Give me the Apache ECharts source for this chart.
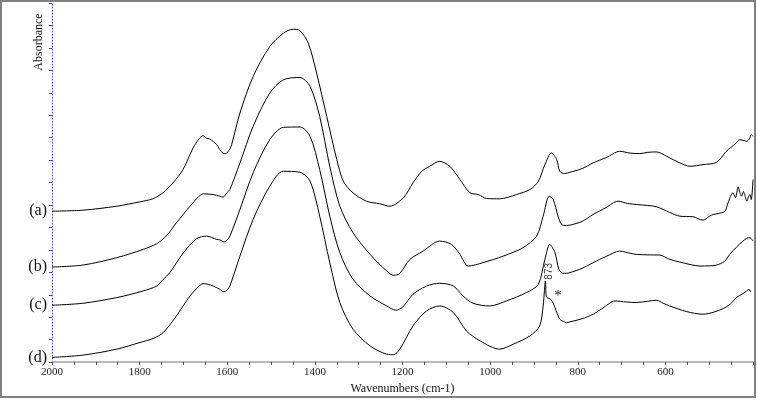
<!DOCTYPE html>
<html>
<head>
<meta charset="utf-8">
<script src="https://cdn.jsdelivr.net/npm/echarts@6/dist/echarts.min.js"></script>
<style>
html,body{margin:0;padding:0;background:#fff;}
#chart{width:757px;height:400px;}
</style>
</head>
<body>
<div id="chart"></div>
<script>
// X tick labels shown on the axis (cm-1)
const xTickLabels = [2000, 1800, 1600, 1400, 1200, 1000, 800, 600];
const seriesNames = ['(a)', '(b)', '(c)', '(d)'];

// Spectra: [wavenumber (cm-1), absorbance (arbitrary offset units)]
const spectrumA = [
  [2000,151.3],[1929,152.3],[1852,156.3],[1799,160.7],[1770,163.7],[1747,169.7],[1724,179.7],
  [1701,193],[1678,214.7],[1664,224],[1655,227],[1648,224.5],[1640,223.7],[1624,218],[1617,213],
  [1610,209.5],[1604,209],[1594,213.7],[1590,218],[1571,249.7],[1541,286.3],[1503,316.3],
  [1472,329.7],[1449,333.7],[1434,332.3],[1415,319.7],[1396,289.7],[1373,246.3],[1350,203],
  [1335,181.3],[1313,169.7],[1282,161.3],[1252,158.7],[1229,156.3],[1198,164.7],[1176,179.7],
  [1156,191.3],[1138,196.3],[1115,201.3],[1092,196.3],[1069,183],[1046,169.7],[1027,168],
  [1008,164],[978,163.7],[940,168],[909,173],[890,181.3],[875,198],[860,209.7],[848,203],
  [841,191.3],[830,189],[818,190.3],[790,194],[765,199.7],[735,205],[704,211.3],[680,209.5],
  [658,209],[640,210.3],[620,210.7],[597,206.3],[567,199.7],[544,196.3],[514,198],[483,200.3],
  [461,211.3],[440,219],[430,223],[420,222],[415,221.3],[408,224],[404,228],[400,226.3]
];
const spectrumB = [
  [2000,95.3],[1929,97.3],[1852,104.7],[1792,113],[1761,118.7],[1738,127],[1716,139.7],
  [1685,156.3],[1665,166],[1655,168.7],[1632,168],[1617,166.3],[1609,165.5],[1601,169.7],
  [1594,173],[1571,199.7],[1541,236.3],[1503,269.7],[1472,283],[1434,285.3],[1411,276.3],
  [1389,246.3],[1366,196.3],[1343,156.3],[1313,129.7],[1274,108],[1236,91.3],[1220,87],
  [1206,89],[1183,103],[1153,111.3],[1115,121.3],[1088,118],[1069,108],[1050,96.3],
  [1016,99.7],[970,106.3],[925,114.7],[894,126.3],[879,146.3],[865,166.3],[856,163],
  [845,146.3],[837,138],[826,137],[818,137.3],[790,141],[765,148],[735,155],[708,161.3],
  [686,159],[666,158],[640,157],[620,155.7],[590,150],[567,146.3],[537,145.7],[514,142.3],
  [500,146],[491,148],[478,149],[464,151.3],[457,159.7],[446,169.7],[440,165],[434,175.7],
  [430,170],[426,166.3],[422,171],[419,168],[414,161.3],[410,166],[407,168],[404,163],[400,183]
];
const spectrumC = [
  [2000,57],[1929,59],[1852,64.7],[1792,71.3],[1761,76.3],[1746,83],[1731,89.7],[1700,109.7],
  [1670,123.7],[1647,126.3],[1624,123],[1617,122.5],[1607,120.5],[1601,122],[1594,126.3],
  [1571,153],[1541,189.7],[1503,223],[1472,235.3],[1434,235.7],[1411,226.3],[1389,193],
  [1366,146.3],[1343,109.7],[1313,83],[1274,66.3],[1236,56.3],[1215,52],[1200,55],
  [1176,68],[1145,76.3],[1115,79],[1084,76.3],[1062,66.3],[1039,59],[1001,56.3],[963,61.3],
  [917,69.7],[890,78],[875,103],[864,118],[852,109.7],[843,93],[833,89],[826,89],[818,89.7],
  [790,94],[765,99.7],[735,106],[704,111.3],[680,109],[666,108],[640,107.5],[613,107.3],
  [590,103],[567,100.3],[540,97.5],[521,96.3],[500,96.5],[483,97.3],[465,101],[453,108],
  [438,115],[423,121.3],[415,124],[407,124.7],[400,121.3]
];
const spectrumD = [
  [2000,4.7],[1929,7],[1852,13],[1799,19.7],[1769,23.7],[1746,29.7],[1716,46.3],[1685,66.3],
  [1665,76],[1655,78.7],[1632,76.3],[1617,73],[1608,70.5],[1600,72.5],[1594,76.3],
  [1571,106.3],[1541,143],[1503,176.3],[1472,191.3],[1434,190.3],[1411,181.3],[1389,146.3],
  [1366,99.7],[1343,59.7],[1313,33],[1274,16.3],[1236,8],[1220,7.5],[1206,13],[1176,36.3],
  [1145,51.3],[1115,56.3],[1084,49.7],[1054,31.3],[1023,21.3],[978,13],[947,18],[909,26.3],
  [887,36.3],[879,56.3],[876,72],[874,81.3],[872,66],[870,64.7],[862,63],[856,59],[852,54.7],
  [841,43],[830,40.3],[826,39.5],[818,40.3],[790,43.5],[765,48],[740,55],[715,61.3],
  [690,60.3],[666,59.7],[640,61],[620,62],[605,59],[590,56.3],[552,50.7],[514,48],[490,50],
  [468,53.7],[452,58],[438,64.7],[425,68],[415,71.3],[409,73],[406,71],[404,71.3]
];

const spectra = [spectrumA, spectrumB, spectrumC, spectrumD];

const chart = echarts.init(document.getElementById('chart'), null, {renderer: 'canvas'});

const serif = 'Liberation Serif';

const series = spectra.map((data, i) => {
  const s = {
    type: 'line',
    name: seriesNames[i],
    data: data,
    showSymbol: false,
    smooth: 0.3,
    lineStyle: {color: '#000', width: 1},
    animation: false,
    markPoint: {
      symbol: 'circle',
      symbolSize: 0,
      animation: false,
      data: [{
        coord: data[0],
        label: {
          show: true, position: 'left', distance: 5,
          formatter: seriesNames[i],
          fontFamily: serif, fontSize: 16, color: '#111'
        }
      }]
    }
  };
  if (i === 3) {
    s.markPoint.data.push({
      coord: [864, 91],
      label: {
        show: true, position: 'inside', rotate: 90,
        formatter: '873', fontFamily: 'Liberation Sans', fontSize: 10, color: '#444'
      }
    });
    s.markPoint.data.push({
      coord: [845, 66],
      label: {
        show: true, position: 'inside',
        formatter: '*', fontFamily: serif, fontSize: 15, color: '#222'
      }
    });
  }
  return s;
});

chart.setOption({
  backgroundColor: '#fff',
  animation: false,
  grid: {left: 52, right: 4, top: 3, bottom: 37, containLabel: false},
  xAxis: {
    type: 'value',
    inverse: true,
    min: 400,
    max: 2000,
    interval: 50,
    name: 'Wavenumbers (cm-1)',
    nameLocation: 'middle',
    nameGap: 16,
    nameTextStyle: {fontFamily: serif, fontSize: 12, color: '#111'},
    axisLine: {show: true, onZero: false, lineStyle: {color: '#b8b8b8', width: 2}},
    axisTick: {show: true, length: 3, inside: false, lineStyle: {color: '#3a3ad0', width: 1}},
    axisLabel: {
      margin: 5,
      fontFamily: serif, fontSize: 11, color: '#222',
      formatter: v => (xTickLabels.indexOf(v) >= 0 ? String(v) : '')
    },
    splitLine: {show: false}
  },
  yAxis: {
    type: 'value',
    min: 0,
    max: 360,
    interval: 22.5,
    axisLine: {show: true, onZero: false, lineStyle: {color: '#4a4ae0', width: 1, type: [1, 2]}},
    axisTick: {show: true, length: 3, inside: false, lineStyle: {color: '#3a3ad0', width: 1}},
    axisLabel: {show: false},
    splitLine: {show: false}
  },
  graphic: [
    {
      type: 'rect', silent: true,
      shape: {x: 1, y: 1, width: 754, height: 396},
      style: {fill: 'none', stroke: '#808080', lineWidth: 2}
    },
    {
      type: 'text', silent: true,
      x: 39, y: 42, rotation: Math.PI / 2,
      style: {
        text: 'Absorbance', fontFamily: serif, fontSize: 12, fill: '#111',
        align: 'center', verticalAlign: 'middle'
      }
    }
  ],
  series: series
});
</script>
</body>
</html>
